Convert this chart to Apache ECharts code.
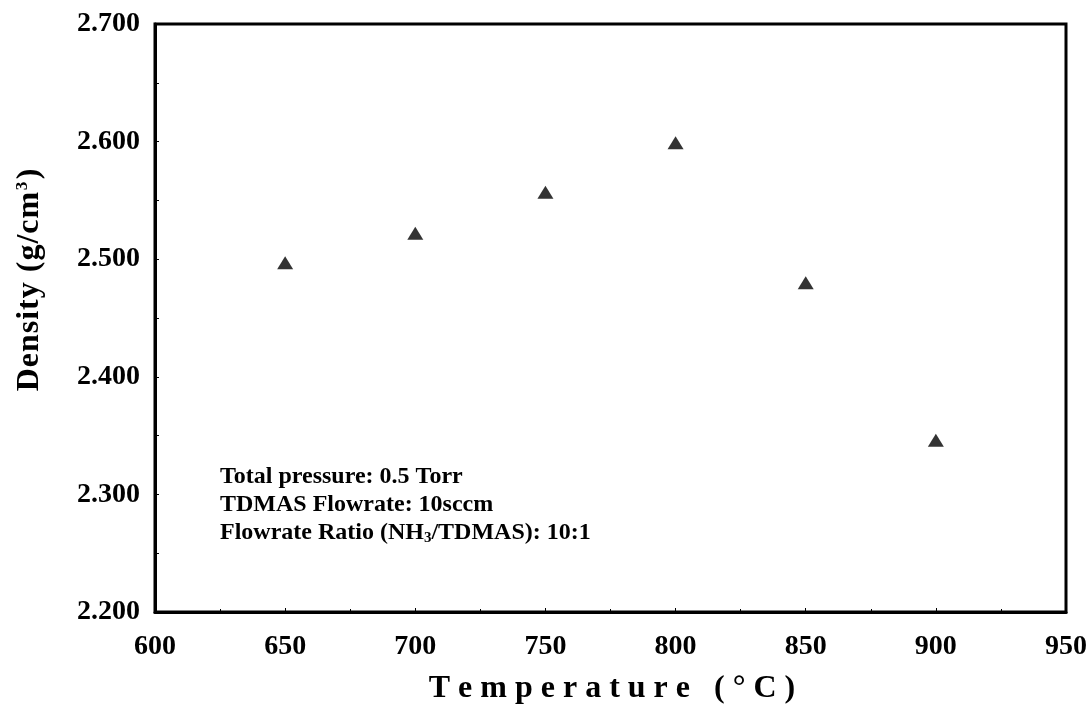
<!DOCTYPE html>
<html>
<head>
<meta charset="utf-8">
<script src="https://cdn.jsdelivr.net/npm/echarts@6/dist/echarts.min.js"></script>
<style>
html,body{margin:0;padding:0;background:#fff;}
#chart{width:1090px;height:714px;}
</style>
</head>
<body>
<div id="chart"></div>
<script>
const temperatures = [650, 700, 750, 800, 850, 900];
const densities = [2.497, 2.522, 2.557, 2.599, 2.480, 2.346];
const xAxisTitle = 'Temperature (°C)';
const yAxisTitleMain = 'Density (g/cm';
const yAxisTitleSup = '3';
const yAxisTitleEnd = ')';
const noteLines = [
  'Total pressure: 0.5 Torr',
  'TDMAS Flowrate: 10sccm',
  'Flowrate Ratio (NH{sub|3}/TDMAS): 10:1'
];

const FONT = '"Liberation Serif", "DejaVu Serif", serif';
const spaced = (s, key) => s.split('').map(c => '{' + key + '|' + c + '}').join('');

const chart = echarts.init(document.getElementById('chart'), null, {renderer: 'canvas'});

const option = {
  backgroundColor: '#fff',
  animation: false,
  grid: {
    left: 155, right: 22, top: 24, bottom: 102,
    show: true, borderColor: '#000', borderWidth: 3, backgroundColor: 'transparent'
  },
  xAxis: {
    type: 'value', min: 600, max: 950, interval: 50,
    axisLine: {show: true, onZero: false, lineStyle: {color: '#000', width: 3}},
    axisTick: {show: true, inside: true, length: 4, lineStyle: {color: '#000', width: 1}},
    minorTick: {show: true, splitNumber: 2, length: 3, lineStyle: {color: '#000', width: 1}},
    splitLine: {show: false},
    axisLabel: {fontFamily: FONT, fontWeight: 'bold', fontSize: 28, color: '#000', margin: 21,
      formatter: v => String(v)}
  },
  yAxis: {
    type: 'value', min: 2.2, max: 2.7, interval: 0.1,
    axisLine: {show: true, onZero: false, lineStyle: {color: '#000', width: 3}},
    axisTick: {show: true, inside: true, length: 4, lineStyle: {color: '#000', width: 1}},
    minorTick: {show: true, splitNumber: 2, length: 4, lineStyle: {color: '#000', width: 1}},
    splitLine: {show: false},
    axisLabel: {fontFamily: FONT, fontWeight: 'bold', fontSize: 28, color: '#000', margin: 15,
      formatter: v => v.toFixed(3)}
  },
  graphic: [
    {
      type: 'text', x: 612, y: 689, silent: true,
      style: {
        text: spaced(xAxisTitle, 'c'), align: 'center', verticalAlign: 'middle',
        fontFamily: FONT, fontWeight: 'bold', fontSize: 32, fill: '#000',
        rich: {c: {fontFamily: FONT, fontWeight: 'bold', fontSize: 32, fill: '#000', padding: [0, 4, 0, 4]}}
      }
    },
    {
      type: 'text', x: 30, y: 280, rotation: Math.PI / 2, silent: true,
      style: {
        text: spaced(yAxisTitleMain, 'c') + '{sup|' + yAxisTitleSup + '}' + spaced(yAxisTitleEnd, 'c'),
        align: 'center', verticalAlign: 'middle',
        fontFamily: FONT, fontWeight: 'bold', fontSize: 32, fill: '#000',
        rich: {
          c: {fontFamily: FONT, fontWeight: 'bold', fontSize: 32, fill: '#000', padding: [0, 0.5, 0, 0.5]},
          sup: {fontFamily: FONT, fontWeight: 'bold', fontSize: 17, fill: '#000', verticalAlign: 'top', padding: [0, 2, 14, 1]}
        }
      }
    }
  ].concat(noteLines.map((t, i) => ({
    type: 'text', left: 220, top: 465 + i * 28, silent: true,
    style: {
      text: t, fontFamily: FONT, fontWeight: 'bold', fontSize: 24, fill: '#000',
      rich: {sub: {fontFamily: FONT, fontWeight: 'bold', fontSize: 15, fill: '#000', padding: [11, 0, 0, 0]}}
    }
  }))),
  series: [{
    type: 'scatter',
    data: temperatures.map((t, i) => [t, densities[i]]),
    symbol: 'triangle', symbolSize: [16, 13],
    itemStyle: {color: '#000'}
  }]
};
chart.setOption(option);
</script>
</body>
</html>
